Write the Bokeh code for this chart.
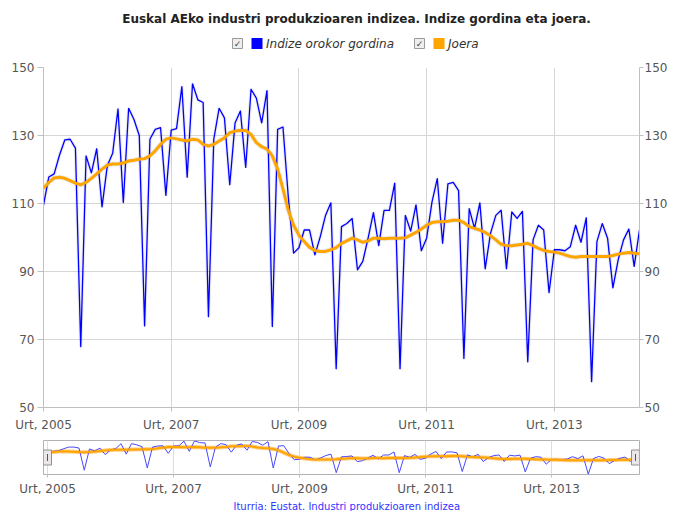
import numpy as np
from bokeh.plotting import figure
from bokeh.layouts import column
from bokeh.models import Range1d, LinearAxis, Title
from bokeh.core.properties import value
from bokeh.embed import file_html
from bokeh.resources import INLINE

# ---------------- data ----------------
title_text = "Euskal AEko industri produkzioaren indizea. Indize gordina eta joera."
series_names = ["Indize orokor gordina", "Joera"]
series_colors = ["#0000ff", "#ffa500"]
credits_text = "Iturria: Eustat. Industri produkzioaren indizea"
tick_months = [0, 24, 48, 72, 96]
tick_labels = ["Urt, 2005", "Urt, 2007", "Urt, 2009", "Urt, 2011", "Urt, 2013"]
y_ticks = [50, 70, 90, 110, 130, 150]

# monthly raw index, Jan 2005 .. May 2014
raw = [
    109.5, 117.8, 118.7, 124.2, 128.7, 128.9, 126.3, 67.9, 124.0, 119.0, 126.1, 109.0,   # 2005
    121.2, 124.8, 137.8, 110.3, 138.0, 134.7, 130.0, 74.0, 128.9, 131.8, 132.3, 112.4,   # 2006
    131.6, 132.0, 144.4, 117.7, 145.2, 140.5, 139.7, 76.7, 128.9, 138.0, 135.2, 115.5,   # 2007
    133.7, 137.2, 120.6, 143.6, 141.0, 133.7, 143.2, 73.8, 131.8, 132.5, 112.0, 95.4,    # 2008
    97.0, 102.2, 102.2, 94.9, 100.2, 106.5, 110.2, 61.4, 103.2, 104.1, 105.6, 90.5,      # 2009
    93.0, 99.8, 107.3, 97.6, 108.0, 108.0, 116.0, 61.4, 106.5, 101.9, 109.6, 96.1,       # 2010
    99.8, 110.4, 117.3, 98.3, 115.8, 116.2, 113.8, 64.4, 108.5, 102.7, 110.2, 90.8,      # 2011
    101.2, 106.5, 108.0, 90.8, 107.5, 105.6, 107.7, 63.4, 99.3, 103.6, 102.2, 83.8,      # 2012
    96.4, 96.4, 96.1, 97.3, 103.6, 98.6, 105.8, 57.6, 98.8, 104.1, 99.8, 85.2,           # 2013
    93.5, 99.3, 102.5, 91.5, 102.2,                                                      # 2014
]
trend = [
    114.5, 116.2, 117.5, 117.7, 117.4, 116.7, 116.0, 115.5, 116.2, 117.4, 118.7, 120.1,  # 2005
    121.3, 121.6, 121.6, 121.9, 122.5, 122.7, 123.0, 123.2, 124.0, 125.5, 127.4, 128.9,  # 2006
    129.3, 129.0, 128.7, 128.4, 128.9, 128.7, 127.4, 126.9, 127.4, 128.4, 129.3, 130.8,  # 2007
    131.3, 131.5, 131.5, 130.3, 127.9, 126.7, 126.0, 124.0, 120.1, 114.3, 108.0, 103.6,  # 2008
    100.7, 98.8, 97.1, 96.2, 95.9, 95.9, 96.4, 97.0, 98.3, 99.0, 99.8, 99.3,             # 2009
    98.6, 99.0, 99.8, 99.8, 99.6, 99.8, 99.8, 99.8, 99.9, 100.7, 101.5, 102.5,           # 2010
    103.6, 104.4, 104.6, 104.6, 104.8, 105.1, 105.1, 104.4, 103.2, 102.7, 102.2, 101.5,  # 2011
    100.5, 99.3, 98.0, 97.6, 97.6, 97.8, 98.0, 98.3, 97.6, 96.8, 96.2, 95.9,             # 2012
    95.7, 95.4, 94.9, 94.4, 94.2, 94.4, 94.4, 94.4, 94.4, 94.4, 94.4, 94.7,              # 2013
    95.1, 95.4, 95.6, 95.4, 95.2,                                                        # 2014
]
months = list(range(len(raw)))

# ---------------- style ----------------
FONT = "DejaVu Sans"
W = 670
BL, BR = 43, 31            # left / right borders shared by all panels
FL, FR = BL, W - BR        # frame left / right in page pixels
GRID = "#d6d6d6"
AXIS = "#c0c0c0"
LABEL = "#555555"


def style_axis(ax, ticks, overrides=None, tick_out=5, standoff=4):
    ax.ticker = ticks
    if overrides:
        ax.major_label_overrides = overrides
    ax.axis_line_color = AXIS
    ax.major_tick_line_color = AXIS
    ax.major_tick_out = tick_out
    ax.major_tick_in = 0
    ax.minor_tick_line_color = None
    ax.major_label_standoff = standoff
    ax.major_label_text_font = FONT
    ax.major_label_text_font_size = "12px"
    ax.major_label_text_color = LABEL


# ---------------- header (title + legend) ----------------
HH = 62
hdr = figure(width=W, height=HH, x_range=Range1d(FL, FR), y_range=Range1d(HH, 0),
             toolbar_location=None, output_backend="svg", title=None,
             min_border_left=BL, min_border_right=BR, min_border_top=0,
             min_border_bottom=0, x_axis_location=None, y_axis_location=None,
             outline_line_color=None)
hdr.grid.grid_line_color = None
hdr.text(x=[356], y=[18], text=[title_text], text_align="center", text_baseline="middle",
         text_font=value(FONT), text_font_size="12px", text_font_style="bold",
         text_color="#222222")
leg_y = 43
cb_x = [237, 419]
sq_x = [c + 19.5 for c in cb_x]
tx_x = [s + 9 for s in sq_x]
hdr.rect(x=cb_x, y=[leg_y] * 2, width=10, height=10, fill_color="#eeeeee",
         line_color="#9a9a9a", line_width=1)
hdr.text(x=cb_x, y=[leg_y + 0.5] * 2, text=["\u2713"] * 2, text_align="center",
         text_baseline="middle", text_font=value(FONT), text_font_size="9px",
         text_color="#444444")
hdr.rect(x=sq_x, y=[leg_y] * 2, width=11, height=11, fill_color=series_colors,
         line_color=None)
hdr.text(x=tx_x, y=[leg_y] * 2, text=series_names, text_align="left",
         text_baseline="middle", text_font=value(FONT), text_font_size="12px",
         text_font_style="italic", text_color="#333333")

# ---------------- main chart ----------------
main = figure(width=W, height=372, x_range=Range1d(months[0], months[-1]),
              y_range=Range1d(y_ticks[0], y_ticks[-1]), toolbar_location=None,
              output_backend="svg", title=None, min_border_left=BL, min_border_right=BR,
              min_border_top=5, min_border_bottom=24, outline_line_color=None)
main.add_layout(LinearAxis(), "right")
x_over = dict(zip(tick_months, tick_labels))
style_axis(main.yaxis[0], y_ticks, tick_out=6, standoff=3)
style_axis(main.yaxis[1], y_ticks, tick_out=4, standoff=1)
style_axis(main.xaxis[0], tick_months, x_over, tick_out=4, standoff=6)
main.xgrid.ticker = tick_months
main.ygrid.ticker = y_ticks
main.grid.grid_line_color = GRID
main.grid.grid_line_width = 1

# shadows
main.line(months, raw, line_color="#000000", line_alpha=0.08, line_width=3.5)
main.line(months, trend, line_color="#000000", line_alpha=0.07, line_width=5)
main.line(months, raw, line_color=series_colors[0], line_width=1.3, line_join="round")
main.line(months, trend, line_color=series_colors[1], line_width=3, line_join="round")

# ---------------- navigator ----------------
pad_px = 4
nav_pad = pad_px * (months[-1] - months[0]) / (FR - FL - 2 * pad_px)
lo, hi = min(raw), max(raw)
nav = figure(width=W, height=77,
             x_range=Range1d(months[0] - nav_pad, months[-1] + nav_pad),
             y_range=Range1d(lo - 1, hi + 1), toolbar_location=None,
             output_backend="svg", title=None, min_border_left=BL, min_border_right=BR,
             min_border_top=6, min_border_bottom=33, y_axis_location=None,
             outline_line_color="#b2b1b6")
style_axis(nav.xaxis[0], tick_months, x_over, tick_out=3, standoff=4)
nav.xaxis[0].axis_line_color = None
nav.xgrid.ticker = tick_months
nav.xgrid.grid_line_color = "#dddddd"
nav.ygrid.grid_line_color = None
nav.line(months, trend, line_color="#ffcc80", line_width=4)
nav.line(months, raw, line_color="#4848ff", line_width=1)
nav.line(months, trend, line_color=series_colors[1], line_width=2)
ymid = (lo + hi) / 2
ends = [months[0], months[-1]]
nav.rect(x=ends, y=[ymid] * 2, width=8, height=15, width_units="screen",
         height_units="screen", fill_color="#ebe7e8", line_color="#909090")
nav.rect(x=ends, y=[ymid] * 2, width=1, height=7, width_units="screen",
         height_units="screen", fill_color="#555555", line_color=None)

credits = Title(text=credits_text, align="left", text_color="#3333ff",
                text_font_size="10px", text_font_style="normal", text_font=FONT,
                standoff=0, offset=233 - FL)
nav.add_layout(credits, "below")

layout = column(hdr, main, nav, spacing=0)
open("out.html", "w").write(file_html(layout, INLINE))
